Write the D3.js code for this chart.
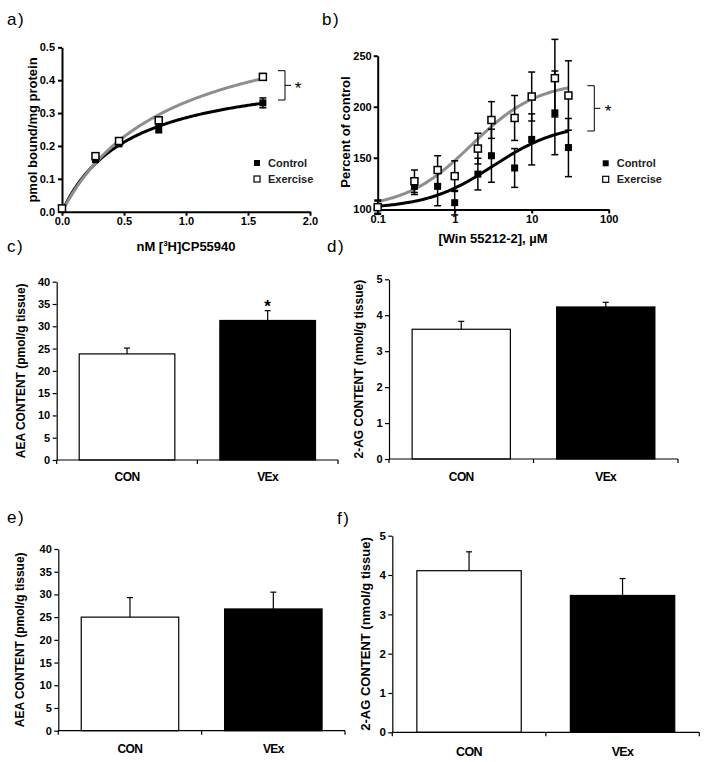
<!DOCTYPE html>
<html><head><meta charset="utf-8">
<script src="https://cdn.jsdelivr.net/npm/d3@7"></script>
<style>
body{margin:0;background:#fff}
svg{display:block}
text{font-family:"Liberation Sans",Arial,Helvetica,sans-serif}
</style>
</head><body>
<svg id="fig" width="711" height="762"></svg>
<script>
// ---------- Panel a: saturation binding ----------
const aConc = [0, 0.27, 0.46, 0.78, 1.62];
const aControl = [0.01, 0.16, 0.21, 0.252, 0.331];
const aControlErr = [0.006, 0.01, 0.012, 0.012, 0.015];
const aExercise = [0.01, 0.169, 0.215, 0.278, 0.41];
const aExerciseErr = [0.006, 0.008, 0.01, 0.01, 0.01];
const aFitControl = [0.44, 0.54];   // Bmax, Kd of the fitted curve
const aFitExercise = [0.62, 0.86];
const aXTicks = [0, 0.5, 1.0, 1.5, 2.0];
const aYTicks = [0, 0.1, 0.2, 0.3, 0.4, 0.5];

// ---------- Panel b: concentration-response ----------
const bConc = [0.1, 0.3, 0.6, 1, 2, 3, 6, 10, 20, 30];
const bControl = [101.6, 122, 122, 106, 134, 152, 140, 168, 194, 160];
const bControlErr = [6, 8, 19, 12, 15.5, 26, 19, 25, 41, 28.5];
const bExercise = [101.6, 127, 138, 132, 159, 187, 189, 210, 228, 211];
const bExerciseErr = [7, 11, 14, 15, 15, 18, 22, 24, 38, 34];
const bFitControl = [100, 184, 3.15];   // bottom, top, EC50
const bFitExercise = [100, 225, 1.65];
const bXTicks = [0.1, 1, 10, 100];
const bYTicks = [100, 150, 200, 250];

const seriesNames = ["Control", "Exercise"];

// ---------- Panels c-f: bar charts ----------
const barCategories = ["CON", "VEx"];
const cValues = [23.8, 31.3];
const cErr = [1.3, 2.2];
const dValues = [3.61, 4.23];
const dErr = [0.22, 0.13];
const eValues = [25.0, 26.8];
const eErr = [4.3, 3.7];
const fValues = [4.11, 3.48];
const fErr = [0.48, 0.43];
const aeaTicks = [0, 5, 10, 15, 20, 25, 30, 35, 40];
const agTicks = [0, 1, 2, 3, 4, 5];

const svg = d3.select("#fig");
svg.append("rect").attr("width", 711).attr("height", 762).attr("fill", "#fff");

const GREY = "#8e8e8e";

function styleGP(g) {
  g.selectAll("path.domain").attr("stroke", "#000").attr("stroke-width", 2);
  g.selectAll(".tick line").attr("stroke", "#000").attr("stroke-width", 2);
  g.selectAll("text").attr("font-size", 11).attr("font-weight", "bold").attr("fill", "#000")
    .attr("font-family", '"Liberation Sans",Arial,sans-serif');
}

function letter(txt, x, y) {
  svg.append("text").attr("x", x).attr("y", y).attr("font-size", 17).attr("letter-spacing", 1.5)
    .attr("fill", "#000").text(txt);
}

function errorBars(g, xs, ys, es, xS, yS, capW) {
  xs.forEach((xv, i) => {
    const px = xS(xv), y1 = yS(ys[i] + es[i]), y0 = yS(ys[i] - es[i]);
    g.append("line").attr("x1", px).attr("x2", px).attr("y1", y1).attr("y2", y0)
      .attr("stroke", "#000").attr("stroke-width", 1.5);
    [y1, y0].forEach(yy => g.append("line").attr("x1", px - capW / 2).attr("x2", px + capW / 2)
      .attr("y1", yy).attr("y2", yy).attr("stroke", "#000").attr("stroke-width", 1.5));
  });
}

function markers(g, xs, ys, xS, yS, filled) {
  g.selectAll(null).data(xs).enter().append("rect")
    .attr("x", (d) => xS(d) - 3.5).attr("y", (d, i) => yS(ys[i]) - 3.5)
    .attr("width", 7).attr("height", 7)
    .attr("fill", filled ? "#000" : "#fff").attr("stroke", "#000").attr("stroke-width", filled ? 0 : 1.5);
}

function legend(x, y0) {
  const g = svg.append("g");
  seriesNames.forEach((n, i) => {
    const y = y0 + i * 16;
    g.append("rect").attr("x", x - 3).attr("y", y - 3).attr("width", 6).attr("height", 6)
      .attr("fill", i === 0 ? "#000" : "#fff").attr("stroke", "#000").attr("stroke-width", i === 0 ? 0 : 1.2);
    g.append("text").attr("x", x + 11).attr("y", y + 4).attr("font-size", 11).attr("font-weight", "bold")
      .attr("fill", "#222").text(n);
  });
}

function bracket(xv, yTop, yBot, starX) {
  const ym = (yTop + yBot) / 2;
  svg.append("path").attr("d", `M${xv - 7},${yTop}H${xv}V${yBot}H${xv - 7}M${xv},${ym}H${xv + 6}`)
    .attr("fill", "none").attr("stroke", "#000").attr("stroke-width", 1);
  svg.append("text").attr("x", starX).attr("y", ym + 9).attr("text-anchor", "middle")
    .attr("font-size", 17).attr("fill", "#000").text("*");
}

// ================= Panel a =================
(function () {
  const x = d3.scaleLinear([0, 2], [62, 310]);
  const y = d3.scaleLinear([0, 0.5], [211.7, 47.3]);
  const g = svg.append("g");
  const xa = g.append("g").attr("transform", "translate(0,211.7)")
    .call(d3.axisBottom(x).tickValues(aXTicks).tickFormat(d3.format(".1f")).tickSize(4).tickSizeOuter(0).tickPadding(2));
  styleGP(xa);
  const ya = g.append("g").attr("transform", "translate(62,0)")
    .call(d3.axisLeft(y).tickValues(aYTicks).tickFormat(d3.format(".1f")).tickSize(4).tickSizeOuter(0).tickPadding(3));
  styleGP(ya);

  const samples = d3.range(0, 1.6201, 0.01);
  const line = d3.line().x(d => x(d[0])).y(d => y(d[1])).curve(d3.curveLinear);
  const fit = (p) => samples.map(c => [c, p[0] * c / (p[1] + c)]);
  g.append("path").attr("d", line(fit(aFitControl))).attr("fill", "none").attr("stroke", "#000").attr("stroke-width", 3);
  g.append("path").attr("d", line(fit(aFitExercise))).attr("fill", "none").attr("stroke", GREY).attr("stroke-width", 3);

  errorBars(g, aConc, aControl, aControlErr, x, y, 7);
  errorBars(g, aConc, aExercise, aExerciseErr, x, y, 7);
  markers(g, aConc, aControl, x, y, true);
  markers(g, aConc, aExercise, x, y, false);

  g.append("text").attr("transform", "translate(32,130) rotate(-90)").attr("dy", "0.35em")
    .attr("text-anchor", "middle").attr("font-size", 13).attr("font-weight", "bold").text("pmol bound/mg protein");
  const t = g.append("text").attr("x", 186).attr("y", 251).attr("text-anchor", "middle")
    .attr("font-size", 13).attr("font-weight", "bold");
  t.append("tspan").text("nM [");
  t.append("tspan").attr("font-size", 8).attr("dy", -5).text("3");
  t.append("tspan").attr("dy", 5).text("H]CP55940");

  legend(257, 163);
  bracket(285, 70.7, 100, 298);
  letter("a)", 7, 25);
})();

// ================= Panel b =================
(function () {
  const x = d3.scaleLog([0.1, 100], [377.7, 608.7]);
  const y = d3.scaleLinear([100, 250], [208.8, 55.7]);
  const g = svg.append("g");
  const xa = g.append("g").attr("transform", "translate(0,209.5)")
    .call(d3.axisBottom(x).tickValues(bXTicks).tickFormat(d => String(d)).tickSize(4).tickSizeOuter(0).tickPadding(2));
  styleGP(xa);
  const ya = g.append("g").attr("transform", "translate(377.7,0)")
    .call(d3.axisLeft(y).tickValues(bYTicks).tickSize(4).tickSizeOuter(0).tickPadding(2));
  styleGP(ya);

  const samples = d3.range(0, 121).map(i => Math.pow(10, -1 + i * (Math.log10(30) + 1) / 120));
  const line = d3.line().x(d => x(d[0])).y(d => y(d[1]));
  const fit = (p) => samples.map(c => [c, p[0] + (p[1] - p[0]) / (1 + p[2] / c)]);
  g.append("path").attr("d", line(fit(bFitControl))).attr("fill", "none").attr("stroke", "#000").attr("stroke-width", 3);
  g.append("path").attr("d", line(fit(bFitExercise))).attr("fill", "none").attr("stroke", GREY).attr("stroke-width", 3);

  errorBars(g, bConc, bControl, bControlErr, x, y, 7);
  errorBars(g, bConc, bExercise, bExerciseErr, x, y, 7);
  markers(g, bConc, bControl, x, y, true);
  markers(g, bConc, bExercise, x, y, false);

  g.append("text").attr("transform", "translate(345,132) rotate(-90)").attr("dy", "0.35em")
    .attr("text-anchor", "middle").attr("font-size", 13).attr("font-weight", "bold").text("Percent of control");
  g.append("text").attr("x", 493).attr("y", 243).attr("text-anchor", "middle")
    .attr("font-size", 13).attr("font-weight", "bold").text("[Win 55212-2], µM");

  legend(605.7, 163.3);
  bracket(594.3, 85.7, 131, 608);
  letter("b)", 322, 25);
})();

// ================= Bar panels =================
function barPanel(cfg) {
  const g = svg.append("g");
  const x = d3.scaleBand(barCategories, [cfg.left, cfg.right]).paddingInner(0.32).paddingOuter(0.16);
  const y = d3.scaleLinear(cfg.domain, [cfg.bottom, cfg.top]);
  const ya = g.append("g").attr("transform", `translate(${cfg.left},0)`)
    .call(d3.axisLeft(y).tickValues(cfg.ticks).tickFormat(d3.format("d")).tickSize(4).tickSizeOuter(0).tickPadding(2.5));
  ya.selectAll("path.domain").attr("stroke", "#000").attr("stroke-width", 1.2);
  ya.selectAll(".tick line").attr("stroke", "#000").attr("stroke-width", 1.2);
  ya.selectAll("text").attr("font-size", cfg.fs - 1).attr("font-weight", "bold").attr("fill", "#000")
    .attr("font-family", '"Liberation Sans",Arial,sans-serif');

  // bars
  g.selectAll(null).data(barCategories).enter().append("rect")
    .attr("x", d => x(d)).attr("y", (d, i) => y(cfg.values[i]))
    .attr("width", x.bandwidth()).attr("height", (d, i) => y(0) - y(cfg.values[i]))
    .attr("fill", (d, i) => i === 0 ? "#fff" : "#000").attr("stroke", "#000").attr("stroke-width", 1.2);
  // error bars (upper only)
  barCategories.forEach((c, i) => {
    const cx = x(c) + x.bandwidth() / 2;
    const y0 = y(cfg.values[i]), y1 = y(cfg.values[i] + cfg.err[i]);
    g.append("line").attr("x1", cx).attr("x2", cx).attr("y1", y0).attr("y2", y1).attr("stroke", "#000").attr("stroke-width", 1.2);
    g.append("line").attr("x1", cx - 3).attr("x2", cx + 3).attr("y1", y1).attr("y2", y1).attr("stroke", "#000").attr("stroke-width", 1.2);
    if (cfg.star && cfg.star[i]) {
      g.append("text").attr("x", cx).attr("y", y1 + 1).attr("text-anchor", "middle")
        .attr("font-size", 17).attr("font-weight", "bold").attr("fill", "#000").text("*");
    }
  });
  // x axis
  const yb = y(0);
  g.append("line").attr("x1", cfg.left).attr("x2", cfg.right).attr("y1", yb).attr("y2", yb)
    .attr("stroke", "#000").attr("stroke-width", 1.2);
  const bounds = [cfg.left, cfg.left + x.step(), cfg.right];
  bounds.forEach(bx => g.append("line").attr("x1", bx).attr("x2", bx).attr("y1", yb).attr("y2", yb + 4)
    .attr("stroke", "#000").attr("stroke-width", 1.2));
  barCategories.forEach(c => g.append("text").attr("x", x(c) + x.bandwidth() / 2).attr("y", cfg.labelY)
    .attr("text-anchor", "middle").attr("font-size", cfg.fs).attr("font-weight", "bold")
    .attr("letter-spacing", -0.6).text(c));
  // y title
  g.append("text").attr("transform", `translate(${cfg.titleX},${(cfg.top + cfg.bottom) / 2}) rotate(-90)`)
    .attr("dy", "0.35em").attr("text-anchor", "middle").attr("font-size", cfg.tfs).attr("font-weight", "bold")
    .text(cfg.title);
}

barPanel({ left: 56.7, right: 338, top: 281.7, bottom: 460, domain: [0, 40], ticks: aeaTicks,
  values: cValues, err: cErr, star: [false, true], title: "AEA CONTENT (pmol/g tissue)",
  titleX: 21, labelY: 481, fs: 12, tfs: 12 });
barPanel({ left: 389, right: 678, top: 279.3, bottom: 459, domain: [0, 5], ticks: agTicks,
  values: dValues, err: dErr, title: "2-AG CONTENT (nmol/g tissue)",
  titleX: 359, labelY: 481, fs: 12, tfs: 12 });
barPanel({ left: 58.3, right: 345, top: 549, bottom: 730.7, domain: [0, 40], ticks: aeaTicks,
  values: eValues, err: eErr, title: "AEA CONTENT (pmol/g tissue)",
  titleX: 20, labelY: 752.5, fs: 12, tfs: 12 });
barPanel({ left: 392.3, right: 699.3, top: 535.7, bottom: 732.3, domain: [0, 5], ticks: agTicks,
  values: fValues, err: fErr, title: "2-AG CONTENT (nmol/g tissue)",
  titleX: 365, labelY: 756, fs: 12.5, tfs: 13 });

letter("c)", 7, 252);
letter("d)", 327, 252);
letter("e)", 7, 523);
letter("f)", 337, 524);
</script>
</body></html>
